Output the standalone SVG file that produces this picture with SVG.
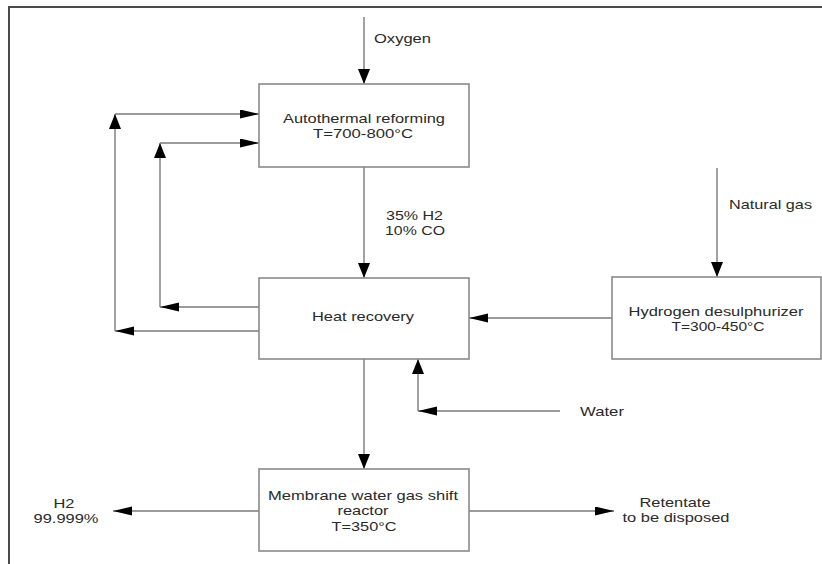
<svg xmlns="http://www.w3.org/2000/svg" width="822" height="564" viewBox="0 0 822 564">
  <defs>
    <!-- arrowheads: horizontal runs are drawn longer, vertical runs wider -->
    <marker id="ah" markerUnits="userSpaceOnUse" markerWidth="19" markerHeight="10" refX="19" refY="4.5" orient="auto">
      <path d="M0,0 L19,4.5 L0,9 Z" fill="#000"/>
    </marker>
    <marker id="av" markerUnits="userSpaceOnUse" markerWidth="15" markerHeight="12" refX="15" refY="6" orient="auto">
      <path d="M0,0 L15,6 L0,12 Z" fill="#000"/>
    </marker>
  </defs>
  <style>
    .box { fill: #fff; stroke: #8a8a8a; stroke-width: 1.6; }
    .ln { fill: none; stroke: #7a7a7a; stroke-width: 1.4; }
    .h { marker-end: url(#ah); }
    .v { marker-end: url(#av); }
    text { font-family: "Liberation Sans", Arial, sans-serif; font-size: 13px; fill: #2a2a2a; }
    .c { text-anchor: middle; }
    .frame { fill: none; stroke: #4a4a4a; stroke-width: 2; }
  </style>

  <rect width="822" height="564" fill="#fff"/>
  <path class="frame" d="M9,564 V7 H822"/>

  <g id="connectors">
    <!-- oxygen feed -->
    <line class="ln v" x1="364" y1="17" x2="364" y2="84"/>
    <!-- reformer to heat recovery -->
    <line class="ln v" x1="364" y1="167" x2="364" y2="278"/>
    <!-- inner recycle loop -->
    <line class="ln h" x1="259" y1="307" x2="160" y2="307"/>
    <line class="ln v" x1="160" y1="307" x2="160" y2="143"/>
    <line class="ln h" x1="160" y1="143" x2="259" y2="143"/>
    <!-- outer recycle loop -->
    <line class="ln h" x1="259" y1="331" x2="115" y2="331"/>
    <line class="ln v" x1="115" y1="331" x2="115" y2="114"/>
    <line class="ln h" x1="115" y1="114" x2="259" y2="114"/>
    <!-- natural gas feed -->
    <line class="ln v" x1="717" y1="168" x2="717" y2="277"/>
    <!-- desulphurizer to heat recovery -->
    <line class="ln h" x1="612" y1="318" x2="469" y2="318"/>
    <!-- water feed -->
    <line class="ln h" x1="560" y1="411" x2="418" y2="411"/>
    <line class="ln v" x1="418" y1="411" x2="418" y2="359"/>
    <!-- heat recovery to shift reactor -->
    <line class="ln v" x1="364" y1="359" x2="364" y2="469"/>
    <!-- products -->
    <line class="ln h" x1="259" y1="511" x2="113" y2="511"/>
    <line class="ln h" x1="469" y1="511" x2="614" y2="511"/>
  </g>

  <g id="autothermal">
    <rect class="box" x="259" y="84" width="210" height="83"/>
    <text class="c" x="364" y="123" textLength="162" lengthAdjust="spacingAndGlyphs">Autothermal reforming</text>
    <text class="c" x="363" y="138" textLength="100" lengthAdjust="spacingAndGlyphs">T=700-800°C</text>
  </g>

  <g id="heat-recovery">
    <rect class="box" x="259" y="278" width="210" height="81"/>
    <text class="c" x="363" y="321" textLength="102" lengthAdjust="spacingAndGlyphs">Heat recovery</text>
  </g>

  <g id="desulphurizer">
    <rect class="box" x="612" y="277" width="209" height="82"/>
    <text class="c" x="716" y="316" textLength="175" lengthAdjust="spacingAndGlyphs">Hydrogen desulphurizer</text>
    <text class="c" x="718" y="331" textLength="93" lengthAdjust="spacingAndGlyphs">T=300-450°C</text>
  </g>

  <g id="shift-reactor">
    <rect class="box" x="259" y="469" width="210" height="82"/>
    <text class="c" x="363" y="500" textLength="190" lengthAdjust="spacingAndGlyphs">Membrane water gas shift</text>
    <text class="c" x="363" y="515" textLength="51" lengthAdjust="spacingAndGlyphs">reactor</text>
    <text class="c" x="364" y="531" textLength="65" lengthAdjust="spacingAndGlyphs">T=350°C</text>
  </g>

  <g id="labels">
    <text x="374" y="43" textLength="57" lengthAdjust="spacingAndGlyphs">Oxygen</text>
    <text x="386" y="220" textLength="57" lengthAdjust="spacingAndGlyphs">35% H2</text>
    <text x="385" y="235" textLength="60" lengthAdjust="spacingAndGlyphs">10% CO</text>
    <text x="729" y="209" textLength="83" lengthAdjust="spacingAndGlyphs">Natural gas</text>
    <text x="580" y="416" textLength="44" lengthAdjust="spacingAndGlyphs">Water</text>
    <text class="c" x="64" y="508" textLength="21" lengthAdjust="spacingAndGlyphs">H2</text>
    <text class="c" x="66" y="523" textLength="65" lengthAdjust="spacingAndGlyphs">99.999%</text>
    <text class="c" x="675" y="507" textLength="71" lengthAdjust="spacingAndGlyphs">Retentate</text>
    <text class="c" x="676" y="522" textLength="107" lengthAdjust="spacingAndGlyphs">to be disposed</text>
  </g>
</svg>
